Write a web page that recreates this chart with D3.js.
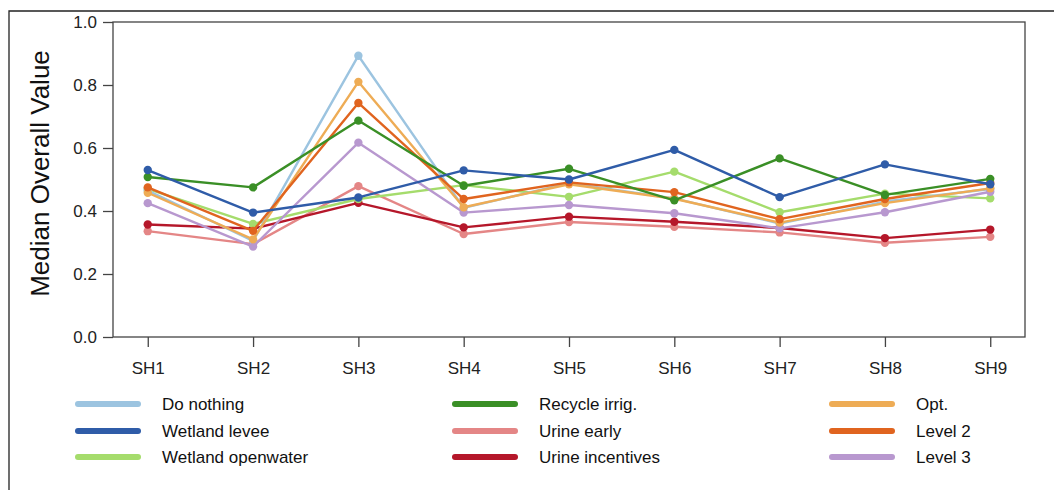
<!DOCTYPE html>
<html>
<head>
<meta charset="utf-8">
<script src="https://cdn.jsdelivr.net/npm/d3@7"></script>
<style>
  body { margin: 0; background: #fff; }
  svg { display: block; font-family: "Liberation Sans", Arial, sans-serif; }
  .axis text { font-size: 17px; fill: #222; }
  .axis path, .axis line { stroke: #444; stroke-width: 1.3; }
</style>
</head>
<body>
<svg id="chart" width="1054" height="490"></svg>
<script>
const sites = ["SH1", "SH2", "SH3", "SH4", "SH5", "SH6", "SH7", "SH8", "SH9"];
const yTicks = [0.0, 0.2, 0.4, 0.6, 0.8, 1.0];

const doNothing        = [0.465, 0.305, 0.893, 0.410, 0.488, 0.440, 0.360, 0.430, 0.470];
const wetlandLevee     = [0.530, 0.395, 0.443, 0.529, 0.500, 0.594, 0.444, 0.548, 0.485];
const wetlandOpenwater = [0.470, 0.359, 0.438, 0.482, 0.445, 0.525, 0.396, 0.455, 0.440];
const recycleIrrig     = [0.508, 0.475, 0.687, 0.480, 0.534, 0.434, 0.567, 0.451, 0.502];
const urineEarly       = [0.336, 0.295, 0.479, 0.327, 0.365, 0.350, 0.332, 0.299, 0.318];
const urineIncentives  = [0.357, 0.344, 0.426, 0.348, 0.382, 0.366, 0.346, 0.314, 0.341];
const opt              = [0.458, 0.310, 0.810, 0.412, 0.485, 0.439, 0.363, 0.425, 0.472];
const level2           = [0.475, 0.337, 0.743, 0.438, 0.491, 0.460, 0.374, 0.438, 0.489];
const level3           = [0.425, 0.287, 0.617, 0.395, 0.419, 0.393, 0.345, 0.396, 0.461];

const series = [
  { name: "Do nothing", color: "#9cc4e0", values: doNothing },
  { name: "Wetland levee", color: "#2f5ca8", values: wetlandLevee },
  { name: "Wetland openwater", color: "#a5dc6c", values: wetlandOpenwater },
  { name: "Recycle irrig.", color: "#3a8f26", values: recycleIrrig },
  { name: "Urine early", color: "#e48686", values: urineEarly },
  { name: "Urine incentives", color: "#b5172a", values: urineIncentives },
  { name: "Opt.", color: "#eeac55", values: opt },
  { name: "Level 2", color: "#e0641f", values: level2 },
  { name: "Level 3", color: "#b898cf", values: level3 }
];

// draw order, so the picture stacks like the reference
const drawOrder = ["Urine early", "Urine incentives", "Wetland openwater", "Do nothing",
  "Level 3", "Opt.", "Level 2", "Recycle irrig.", "Wetland levee"];

const svg = d3.select("#chart");
const plotLeft = 113, plotRight = 1025, plotTop = 22, plotBottom = 337;

// outer frame (top and left edges visible)
svg.append("path")
  .attr("d", "M9,490 V11 H1054")
  .attr("fill", "none")
  .attr("stroke", "#222")
  .attr("stroke-width", 1.3);

const x = d3.scalePoint().domain(sites).range([plotLeft, plotRight]).padding(0.33);
const y = d3.scaleLinear().domain([0, 1]).range([plotBottom, plotTop]);

// plot box
svg.append("rect")
  .attr("x", plotLeft).attr("y", plotTop)
  .attr("width", plotRight - plotLeft).attr("height", plotBottom - plotTop)
  .attr("fill", "none").attr("stroke", "#444").attr("stroke-width", 1.3);

const yAxis = svg.append("g")
  .attr("class", "axis")
  .attr("transform", `translate(${plotLeft},0)`)
  .call(d3.axisLeft(y).tickValues(yTicks).tickFormat(d3.format(".1f")).tickSize(10).tickPadding(6));
yAxis.select(".domain").remove();

const xAxis = svg.append("g")
  .attr("class", "axis")
  .attr("transform", `translate(0,${plotBottom})`)
  .call(d3.axisBottom(x).tickSize(10).tickPadding(15));
xAxis.select(".domain").remove();

svg.append("text")
  .attr("transform", `translate(49,${(plotTop + plotBottom) / 2 - 6}) rotate(-90)`)
  .attr("text-anchor", "middle")
  .attr("font-size", 26)
  .attr("fill", "#111")
  .text("Median Overall Value");

const line = d3.line()
  .x((d, i) => x(sites[i]))
  .y((d) => y(d));

const ordered = drawOrder.map((n) => series.find((s) => s.name === n));

const groups = svg.append("g")
  .selectAll("g")
  .data(ordered)
  .join("g");

groups.append("path")
  .attr("d", (d) => line(d.values))
  .attr("fill", "none")
  .attr("stroke", (d) => d.color)
  .attr("stroke-width", 2.4)
  .attr("stroke-linejoin", "round");

groups.selectAll("circle")
  .data((d) => d.values.map((v, i) => ({ v, i, color: d.color })))
  .join("circle")
  .attr("cx", (d) => x(sites[d.i]))
  .attr("cy", (d) => y(d.v))
  .attr("r", 4.2)
  .attr("fill", (d) => d.color);

// legend, 3 columns of 3
const legendCols = [78, 455, 832];
const legendRows = [404, 431, 457];
const legend = svg.append("g")
  .selectAll("g")
  .data(series)
  .join("g")
  .attr("transform", (d, i) => `translate(${legendCols[Math.floor(i / 3)]},${legendRows[i % 3]})`);

legend.append("line")
  .attr("x1", 0).attr("x2", 60)
  .attr("stroke", (d) => d.color)
  .attr("stroke-width", 6)
  .attr("stroke-linecap", "round");

legend.append("text")
  .attr("x", 84)
  .attr("dy", "0.35em")
  .attr("font-size", 17)
  .attr("fill", "#111")
  .text((d) => d.name);
</script>
</body>
</html>
